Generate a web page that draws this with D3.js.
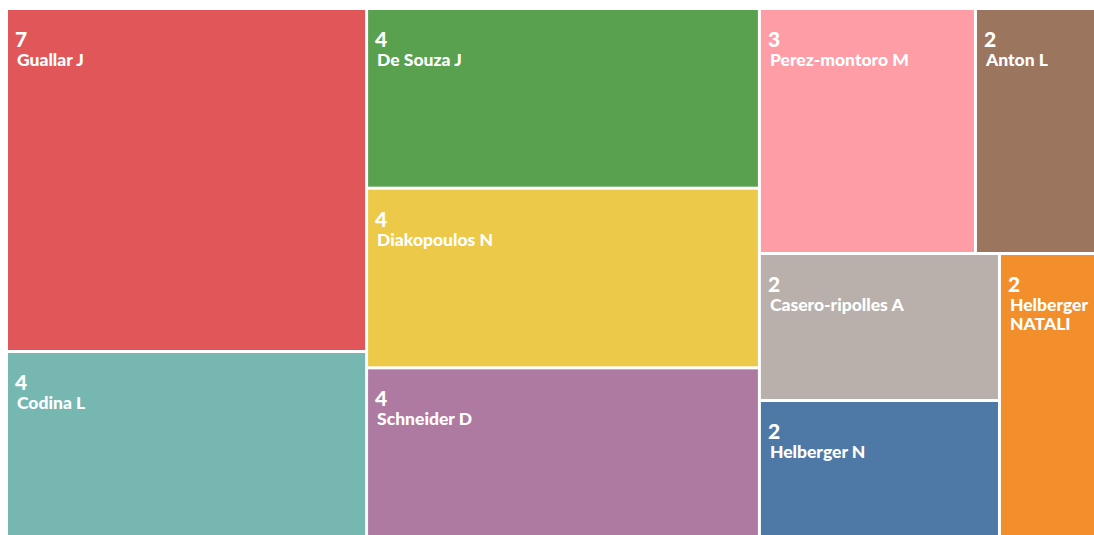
<!DOCTYPE html>
<meta charset="utf-8">
<style type="text/css">
  body {
    margin: 0;
    background: #fff;
    font-family: Lato, "Open Sans", sans-serif;
  }
  .value {
    font-size: 21px;
    font-weight: 900;
    fill: #fff;
  }
  .name {
    font-size: 17.5px;
    font-weight: 900;
    fill: #fff;
  }
</style>
<body>
</body>
<script src="https://d3js.org/d3.v7.min.js"></script>
<script>
  // authors and number of documents
  var authors = ["Guallar J", "Codina L", "De Souza J", "Diakopoulos N", "Schneider D",
    "Perez-montoro M", "Anton L", "Casero-ripolles A", "Helberger N", "Helberger NATALI"];
  var counts = [7, 4, 4, 4, 4, 3, 2, 2, 2, 2];
  // order the palette was assigned in
  var colorOrder = ["Helberger N", "Helberger NATALI", "Guallar J", "Codina L", "De Souza J",
    "Diakopoulos N", "Schneider D", "Perez-montoro M", "Anton L", "Casero-ripolles A"];

  var margin = { top: 10, left: 8 },
    width = 1110,
    height = 536;

  var color = d3.scaleOrdinal(d3.schemeTableau10).domain(colorOrder);

  var data = authors.map(function(a, i) {
    return { name: a, value: counts[i] };
  });

  var root = d3.hierarchy({ children: data })
    .sum(function(d) { return d.value || 0; })
    .sort(function(a, b) { return b.value - a.value; });

  d3.treemap()
    .tile(d3.treemapSquarify)
    .size([width, height])
    .paddingInner(3)(root);

  var svg = d3.select("body").append("svg")
    .attr("width", 1094)
    .attr("height", 535);

  var g = svg.append("g")
    .attr("transform", "translate(" + margin.left + "," + margin.top + ")");

  var cell = g.selectAll("g")
    .data(root.leaves())
    .enter().append("g")
    .attr("transform", function(d) { return "translate(" + d.x0 + "," + d.y0 + ")"; });

  cell.append("rect")
    .attr("width", function(d) { return d.x1 - d.x0; })
    .attr("height", function(d) { return d.y1 - d.y0; })
    .attr("fill", function(d) { return color(d.data.name); });

  cell.append("text")
    .attr("class", "value")
    .attr("x", 7)
    .attr("y", 37)
    .text(function(d) { return d.data.value; });

  // name, wrapped to the visible tile width
  cell.each(function(d) {
    var maxW = Math.min(d.x1, 1094 - margin.left) - d.x0 - 14;
    var text = d3.select(this).append("text")
      .attr("class", "name")
      .attr("x", 9)
      .attr("y", 56);
    var words = d.data.name.split(" "),
      line = [],
      tspan = text.append("tspan").attr("x", 9).attr("dy", 0);
    words.forEach(function(w) {
      line.push(w);
      tspan.text(line.join(" "));
      if (tspan.node().getComputedTextLength() > maxW && line.length > 1) {
        line.pop();
        tspan.text(line.join(" "));
        line = [w];
        tspan = text.append("tspan").attr("x", 9).attr("dy", 19).text(w);
      }
    });
  });
</script>
